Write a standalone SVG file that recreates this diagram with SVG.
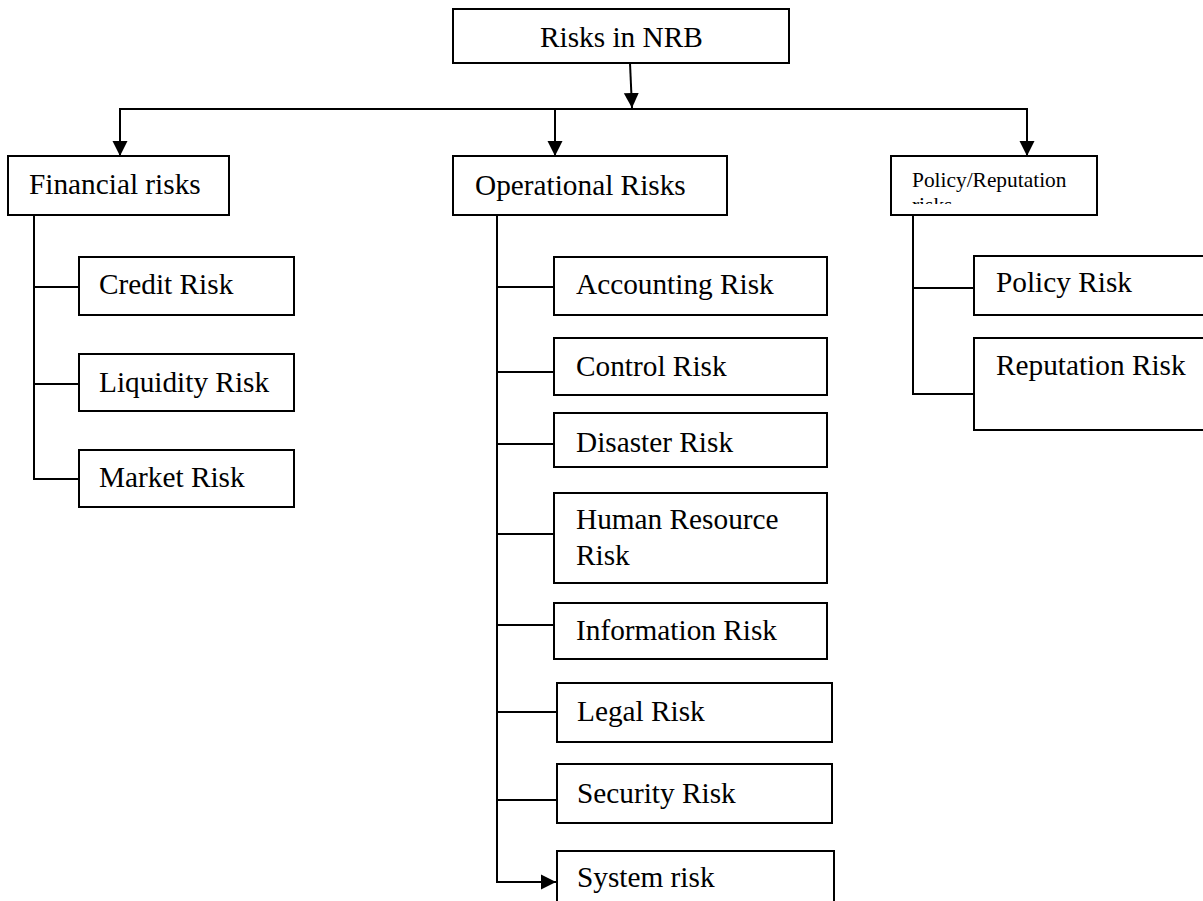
<svg xmlns="http://www.w3.org/2000/svg" width="1203" height="901" viewBox="0 0 1203 901">
<style>
.box{fill:#fff;stroke:#000;stroke-width:2}
.t{font-family:"Liberation Serif","Times New Roman",serif;font-size:29.3px;fill:#000}
.s{font-family:"Liberation Serif","Times New Roman",serif;font-size:21.4px;fill:#000}
.c{fill:none;stroke:#000;stroke-width:2}
</style>
<defs>
<marker id="arr" markerUnits="userSpaceOnUse" markerWidth="16" markerHeight="16" viewBox="0 0 16 16" refX="15" refY="8" orient="auto">
<path d="M0,0.5 L15,8 L0,15.5 Z" fill="#000"/>
</marker>
<clipPath id="pclip"><rect x="891" y="156" width="206" height="48"/></clipPath>
</defs>
<g id="connectors">
<line class="c" x1="630" y1="63" x2="632" y2="108" marker-end="url(#arr)"/>
<line class="c" x1="119" y1="109" x2="1028" y2="109"/>
<line class="c" x1="120" y1="109" x2="120" y2="156" marker-end="url(#arr)"/>
<line class="c" x1="555" y1="109" x2="555" y2="156" marker-end="url(#arr)"/>
<line class="c" x1="1027" y1="109" x2="1027" y2="156" marker-end="url(#arr)"/>
<polyline class="c" points="34,215 34,479 79,479"/>
<line class="c" x1="34" y1="287" x2="79" y2="287"/>
<line class="c" x1="34" y1="384" x2="79" y2="384"/>
<polyline class="c" points="497,215 497,882 556,882" marker-end="url(#arr)"/>
<line class="c" x1="497" y1="287" x2="554" y2="287"/>
<line class="c" x1="497" y1="372" x2="554" y2="372"/>
<line class="c" x1="497" y1="444" x2="554" y2="444"/>
<line class="c" x1="497" y1="534" x2="554" y2="534"/>
<line class="c" x1="497" y1="625" x2="554" y2="625"/>
<line class="c" x1="497" y1="712" x2="557" y2="712"/>
<line class="c" x1="497" y1="800" x2="557" y2="800"/>
<polyline class="c" points="913,215 913,394 978,394"/>
<line class="c" x1="913" y1="288" x2="974" y2="288"/>
</g>
<g id="root"><rect class="box" x="453" y="9" width="336" height="54"/><text class="t" x="540" y="47">Risks in NRB</text></g>
<g id="financial"><rect class="box" x="8" y="156" width="221" height="59"/><text class="t" x="29" y="194">Financial risks</text></g>
<g id="operational"><rect class="box" x="453" y="156" width="274" height="59"/><text class="t" x="475" y="195">Operational Risks</text></g>
<g id="policyrep"><rect class="box" x="891" y="156" width="206" height="59"/><g clip-path="url(#pclip)"><text class="s" x="912" y="187">Policy/Reputation</text><text class="s" x="912" y="212">risks</text></g></g>
<g id="credit"><rect class="box" x="79" y="257" width="215" height="58"/><text class="t" x="99" y="294">Credit Risk</text></g>
<g id="liquidity"><rect class="box" x="79" y="354" width="215" height="57"/><text class="t" x="99" y="392">Liquidity Risk</text></g>
<g id="market"><rect class="box" x="79" y="450" width="215" height="57"/><text class="t" x="99" y="487">Market Risk</text></g>
<g id="accounting"><rect class="box" x="554" y="257" width="273" height="58"/><text class="t" x="576" y="294">Accounting Risk</text></g>
<g id="control"><rect class="box" x="554" y="338" width="273" height="57"/><text class="t" x="576" y="376">Control Risk</text></g>
<g id="disaster"><rect class="box" x="554" y="413" width="273" height="54"/><text class="t" x="576" y="452">Disaster Risk</text></g>
<g id="hr"><rect class="box" x="554" y="493" width="273" height="90"/><text class="t" x="576" y="529">Human Resource</text><text class="t" x="576" y="565">Risk</text></g>
<g id="information"><rect class="box" x="554" y="603" width="273" height="56"/><text class="t" x="576" y="640">Information Risk</text></g>
<g id="legal"><rect class="box" x="557" y="683" width="275" height="59"/><text class="t" x="577" y="721">Legal Risk</text></g>
<g id="security"><rect class="box" x="557" y="764" width="275" height="59"/><text class="t" x="577" y="803">Security Risk</text></g>
<g id="system"><rect class="box" x="557" y="851" width="277" height="70"/><text class="t" x="577" y="887">System risk</text></g>
<g id="policy"><rect class="box" x="974" y="256" width="240" height="59"/><text class="t" x="996" y="292">Policy Risk</text></g>
<g id="reputation"><rect class="box" x="974" y="338" width="240" height="92"/><text class="t" x="996" y="375">Reputation Risk</text></g>
</svg>
